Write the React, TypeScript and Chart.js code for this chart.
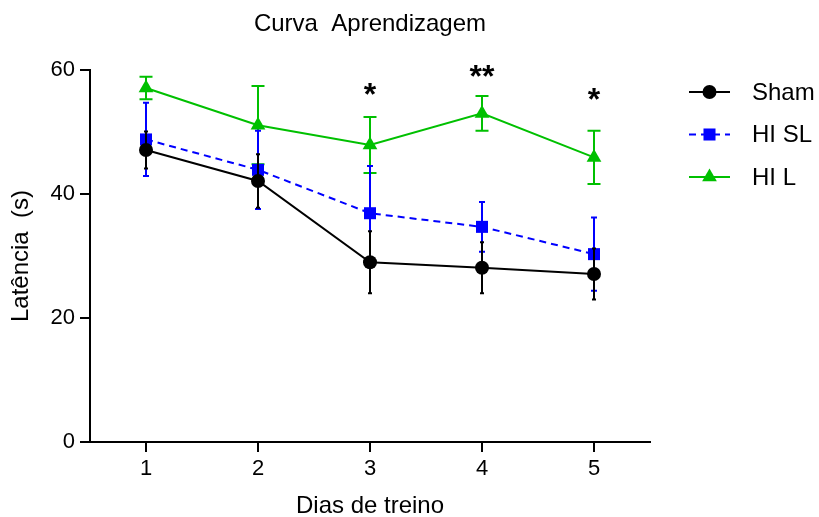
import React, { useEffect, useRef } from "react";
import { Chart, registerables } from "chart.js";
import { drawPoint } from "chart.js/helpers";

Chart.register(...registerables);

// ---- data ----
const days = [1, 2, 3, 4, 5];
const xTicks = [1, 2, 3, 4, 5];
const yTicks = [0, 20, 40, 60];
const seriesNames = ["Sham", "HI SL", "HI L"];
const shamMean = [47.1, 42.1, 29.0, 28.1, 27.1];
const shamSem = [3.0, 4.3, 5.0, 4.1, 4.1];
const hiSlMean = [48.8, 43.9, 36.9, 34.7, 30.3];
const hiSlSem = [5.9, 6.3, 7.6, 4.0, 5.9];
const hiLMean = [57.1, 51.1, 47.9, 53.0, 45.9];
const hiLSem = [1.8, 6.3, 4.5, 2.8, 4.3];
const sigLabels = ["", "", "*", "**", "*"];
const sigY = [null, null, 57.4, 60.3, 56.5];

const titleText = "Curva  Aprendizagem";
const xTitle = "Dias de treino";
const yTitle = "Latência  (s)";

const FONT = "'Liberation Sans', Arial, Helvetica, sans-serif";

const errorBarPlugin = {
  id: "errorBars",
  beforeDatasetDraw(chart: any, args: any) {
    const ds = chart.data.datasets[args.index];
    if (!ds.sem) return;
    const meta = chart.getDatasetMeta(args.index);
    const ys = chart.scales.y;
    const ctx = chart.ctx;
    ctx.save();
    ctx.strokeStyle = ds.borderColor;
    ctx.lineWidth = 2;
    ctx.setLineDash([]);
    meta.data.forEach((pt: any, j: number) => {
      const m = ds.data[j].y;
      const s = ds.sem[j];
      const top = ys.getPixelForValue(m + s);
      const bot = ys.getPixelForValue(m - s);
      const x = pt.x;
      const hw = ds.capHalf;
      ctx.beginPath();
      ctx.moveTo(x, top);
      ctx.lineTo(x, bot);
      ctx.moveTo(x - hw, top);
      ctx.lineTo(x + hw, top);
      ctx.moveTo(x - hw, bot);
      ctx.lineTo(x + hw, bot);
      ctx.stroke();
    });
    ctx.restore();
  },
};

const decorPlugin = {
  id: "decor",
  afterDraw(chart: any) {
    const ctx = chart.ctx;
    const ca = chart.chartArea;
    const xs = chart.scales.x;
    const ys = chart.scales.y;
    ctx.save();
    ctx.fillStyle = "#000";
    ctx.textAlign = "center";
    ctx.textBaseline = "alphabetic";
    ctx.font = `24px ${FONT}`;
    const cx = (ca.left + ca.right) / 2;
    ctx.fillText(titleText, cx, 31);
    ctx.fillText(xTitle, cx, 513);
    ctx.save();
    ctx.translate(28, (ca.top + ca.bottom) / 2);
    ctx.rotate(-Math.PI / 2);
    ctx.fillText(yTitle, 0, 0);
    ctx.restore();

    // significance marks
    const sz = 32;
    ctx.font = `bold ${sz}px ${FONT}`;
    sigLabels.forEach((lab, i) => {
      const v = sigY[i];
      if (!lab || v == null) return;
      const px = xs.getPixelForValue(days[i]);
      const py = ys.getPixelForValue(v);
      ctx.fillText(lab, px, py + 0.58 * sz);
    });

    // legend
    const lx0 = ca.right + 39;
    const lx1 = ca.right + 80;
    const tx = ca.right + 102;
    ctx.font = `24px ${FONT}`;
    ctx.textAlign = "left";
    ctx.textBaseline = "middle";
    chart.data.datasets.forEach((ds: any, i: number) => {
      const y = ca.top + 22 + i * 42.5;
      ctx.save();
      ctx.strokeStyle = ds.borderColor;
      ctx.lineWidth = 2;
      ctx.setLineDash(ds.borderDash || []);
      ctx.beginPath();
      ctx.moveTo(lx0, y);
      ctx.lineTo(lx1, y);
      ctx.stroke();
      ctx.setLineDash([]);
      ctx.fillStyle = ds.pointBackgroundColor;
      ctx.strokeStyle = ds.pointBorderColor;
      drawPoint(ctx, { pointStyle: ds.pointStyle, radius: ds.pointRadius, borderWidth: 0, rotation: 0 } as any, (lx0 + lx1) / 2, y);
      ctx.restore();
      ctx.fillStyle = "#000";
      ctx.fillText(ds.label, tx, y + 1);
    });
    ctx.restore();
  },
};

function toPts(vals: number[]) {
  return days.map((d, i) => ({ x: d, y: vals[i] }));
}

export default function App() {
  const ref = useRef<HTMLCanvasElement | null>(null);
  useEffect(() => {
    if (!ref.current) return;
    const black = "#000000";
    const blue = "#0000FF";
    const green = "#00C000";
    const chart = new Chart(ref.current, {
      type: "line",
      data: {
        datasets: [
          {
            label: seriesNames[0],
            data: toPts(shamMean),
            sem: shamSem,
            capHalf: 2,
            borderColor: black,
            backgroundColor: black,
            pointBackgroundColor: black,
            pointBorderColor: black,
            borderWidth: 2,
            pointStyle: "circle",
            pointRadius: 7,
            pointBorderWidth: 0,
            tension: 0,
          },
          {
            label: seriesNames[1],
            data: toPts(hiSlMean),
            sem: hiSlSem,
            capHalf: 3,
            borderColor: blue,
            backgroundColor: blue,
            pointBackgroundColor: blue,
            pointBorderColor: blue,
            borderWidth: 2,
            borderDash: [7, 5],
            pointStyle: "rect",
            pointRadius: 8.5,
            pointBorderWidth: 0,
            tension: 0,
          },
          {
            label: seriesNames[2],
            data: toPts(hiLMean),
            sem: hiLSem,
            capHalf: 6.5,
            borderColor: green,
            backgroundColor: green,
            pointBackgroundColor: green,
            pointBorderColor: green,
            borderWidth: 2,
            pointStyle: "triangle",
            pointRadius: 8.5,
            pointBorderWidth: 0,
            tension: 0,
          },
        ] as any,
      },
      options: {
        animation: false,
        responsive: true,
        maintainAspectRatio: false,
        devicePixelRatio: 1,
        layout: { padding: { top: 70, right: 169, left: 0, bottom: 0 } },
        plugins: {
          legend: { display: false },
          title: { display: false },
          tooltip: { enabled: false },
        },
        scales: {
          x: {
            type: "linear",
            min: 0.5,
            max: 5.5,
            afterBuildTicks: (s: any) => {
              s.ticks = xTicks.map((v) => ({ value: v }));
            },
            afterFit: (s: any) => {
              s.height = 75;
            },
            border: { display: true, color: "#000", width: 2 },
            grid: { display: true, drawOnChartArea: false, drawTicks: true, tickLength: 10, color: "#000", lineWidth: 2 },
            ticks: { color: "#000", font: { family: FONT, size: 22 }, padding: 4, maxRotation: 0, autoSkip: false, callback: (v: any) => String(v) },
          },
          y: {
            type: "linear",
            min: 0,
            max: 60,
            afterBuildTicks: (s: any) => {
              s.ticks = yTicks.map((v) => ({ value: v }));
            },
            afterFit: (s: any) => {
              s.width = 90;
            },
            border: { display: true, color: "#000", width: 2 },
            grid: { display: true, drawOnChartArea: false, drawTicks: true, tickLength: 10, color: "#000", lineWidth: 2 },
            ticks: { color: "#000", font: { family: FONT, size: 22 }, padding: 5, autoSkip: false, callback: (v: any) => String(v) },
          },
        },
      } as any,
      plugins: [errorBarPlugin, decorPlugin],
    });
    return () => chart.destroy();
  }, []);
  return (
    <div style={{ position: "fixed", left: 0, top: 0, width: 819, height: 517, background: "#fff" }}>
      <canvas ref={ref} />
    </div>
  );
}
